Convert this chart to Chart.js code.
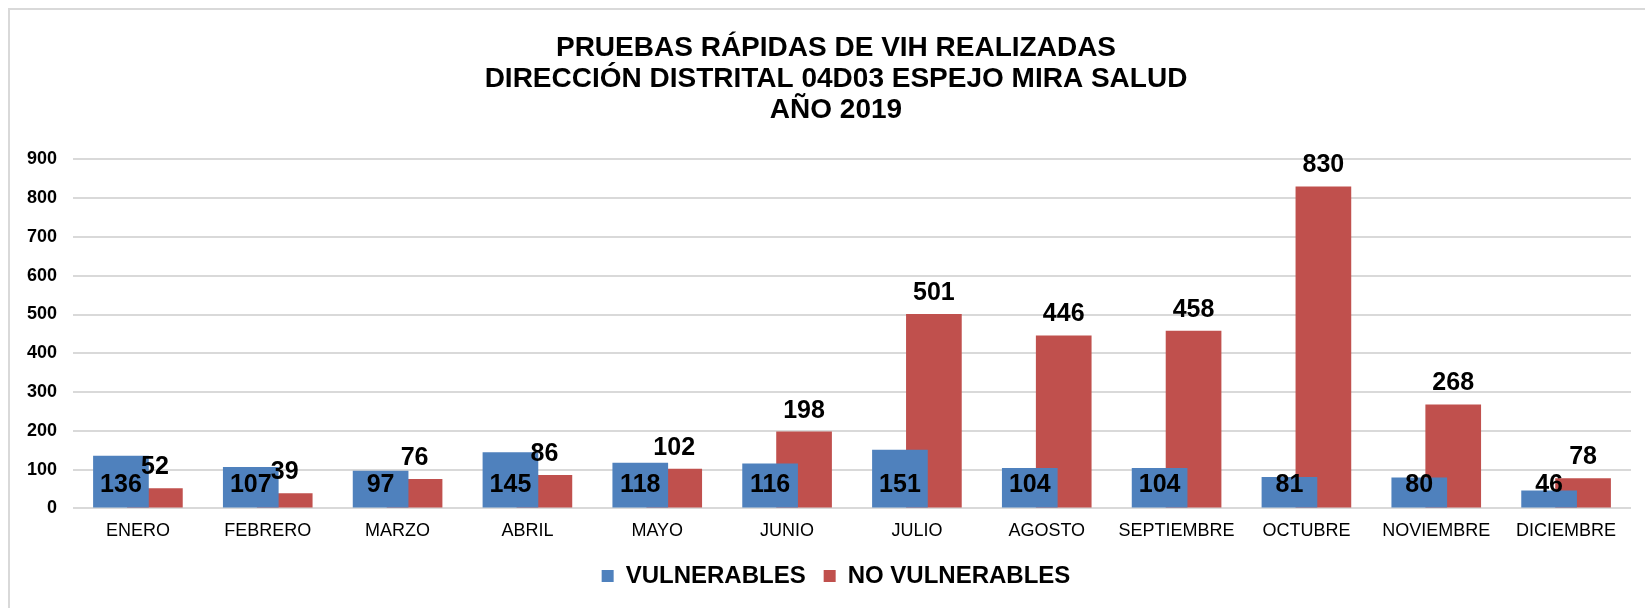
<!DOCTYPE html>
<html><head><meta charset="utf-8">
<script src="https://cdn.jsdelivr.net/npm/chart.js@4.4.1/dist/chart.umd.min.js"></script>
<style>
html,body{margin:0;padding:0;background:#fff;overflow:hidden;width:1645px;height:608px;}
#wrap{position:absolute;left:0;top:0;width:1645px;height:608px;overflow:hidden;}
#frame{position:absolute;left:8px;top:8px;width:1700px;height:700px;border-left:2px solid #d9d9d9;border-top:2px solid #d9d9d9;}
canvas{position:absolute;left:0;top:0;}
</style></head>
<body>
<div id="wrap"><div id="frame"></div><canvas id="c" width="1680" height="608"></canvas></div>
<script>
const categories = ['ENERO','FEBRERO','MARZO','ABRIL','MAYO','JUNIO','JULIO','AGOSTO','SEPTIEMBRE','OCTUBRE','NOVIEMBRE','DICIEMBRE'];
const vulnerables = [136,107,97,145,118,116,151,104,104,81,80,46];
const noVulnerables = [52,39,76,86,102,198,501,446,458,830,268,78];
const titleLines = ['PRUEBAS RÁPIDAS DE VIH REALIZADAS','DIRECCIÓN DISTRITAL 04D03 ESPEJO MIRA SALUD','AÑO 2019'];
const seriesNames = ['VULNERABLES','NO VULNERABLES'];
const yTicks = [0,100,200,300,400,500,600,700,800,900];

const FONT = "'Liberation Sans', Arial, sans-serif";

const labelPlugin = {
  id: 'valueLabels',
  afterDatasetsDraw(chart) {
    const ctx = chart.ctx;
    const yScale = chart.scales.y;
    ctx.save();
    ctx.font = "bold 25px " + FONT;
    ctx.fillStyle = '#000';
    ctx.textAlign = 'center';
    ctx.textBaseline = 'middle';
    chart.data.datasets.forEach((ds, di) => {
      const meta = chart.getDatasetMeta(di);
      meta.data.forEach((bar, i) => {
        const v = ds.data[i];
        let y;
        if (di === 0) y = yScale.getPixelForValue(0) - 23;
        else y = bar.y - 21;
        ctx.fillText(String(v), bar.x, y);
      });
    });
    ctx.restore();
  }
};

new Chart(document.getElementById('c'), {
  type: 'bar',
  data: {
    labels: categories,
    datasets: [
      { label: seriesNames[0], data: vulnerables, backgroundColor: '#4F81BD', borderWidth: 0,
        categoryPercentage: 0.523, barPercentage: 1.64 },
      { label: seriesNames[1], data: noVulnerables, backgroundColor: '#C0504D', borderWidth: 0,
        categoryPercentage: 0.523, barPercentage: 1.64 }
    ]
  },
  options: {
    responsive: false,
    animation: false,
    devicePixelRatio: 1,
    layout: { padding: { left: 8, right: 16, top: 33, bottom: 10 } },
    plugins: {
      title: {
        display: true, text: titleLines, color: '#000',
        font: { family: FONT, size: 28, weight: 'bold', lineHeight: 1.1 },
        padding: { top: 0, bottom: 34 }
      },
      legend: {
        display: true, position: 'bottom',
        labels: {
          color: '#000', boxWidth: 12, boxHeight: 12, padding: 18,
          font: { family: FONT, size: 24, weight: 'bold' }
        }
      },
      tooltip: { enabled: false }
    },
    scales: {
      x: {
        grid: { display: false },
        border: { display: false },
        ticks: { color: '#000', font: { family: FONT, size: 18 }, padding: 4, maxRotation: 0, autoSkip: false }
      },
      y: {
        min: 0, max: 900,
        afterBuildTicks(scale) { scale.ticks = yTicks.map(v => ({ value: v })); },
        grid: { color: '#d9d9d9', lineWidth: 2, drawTicks: false },
        border: { display: false },
        ticks: { color: '#000', font: { family: FONT, size: 18, weight: 'bold' }, padding: 16 },
        afterFit(scale) { scale.width = 65; }
      },
      yR: {
        position: 'right', display: true,
        grid: { display: false }, border: { display: false },
        ticks: { display: false },
        afterFit(scale) { scale.width = 33; }
      }
    }
  },
  plugins: [labelPlugin]
});
</script>
</body></html>
